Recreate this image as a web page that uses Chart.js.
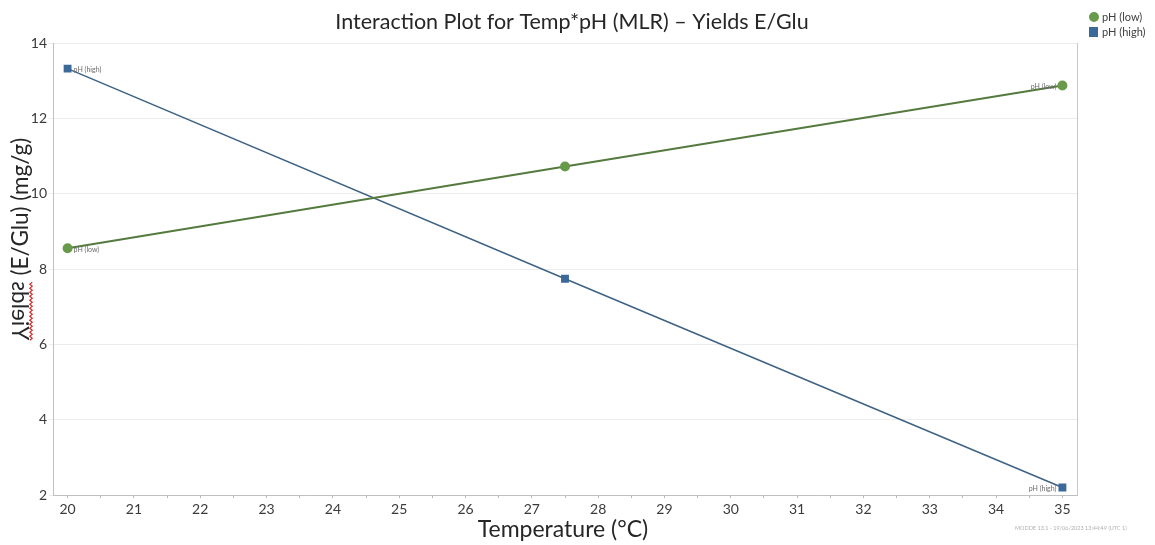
<!DOCTYPE html>
<html>
<head>
<meta charset="utf-8">
<script src="https://cdn.jsdelivr.net/npm/chart.js@4.4.1/dist/chart.umd.min.js"></script>
<style>
  html, body { margin: 0; padding: 0; background: #fff; }
  #wrap { width: 1155px; height: 545px; position: relative; }
</style>
</head>
<body>
<div id="wrap"><canvas id="plot"></canvas></div>
<script>
// ====== Interaction plot: temperature x pH ======
const temps = [20, 27.5, 35];
const yieldLowPH = [8.55, 10.72, 12.87];
const yieldHighPH = [13.32, 7.74, 2.2];
const seriesNames = ["pH (low)", "pH (high)"];
const xTicks = [20, 21, 22, 23, 24, 25, 26, 27, 28, 29, 30, 31, 32, 33, 34, 35];
const yTicks = [2, 4, 6, 8, 10, 12, 14];

const LOW_COLOR = "#679a4a";
const LOW_LINE = "#557a3e";
const HIGH_COLOR = "#3c6a98";
const HIGH_LINE = "#3e6284";
const FONT = "Lato, 'Open Sans', sans-serif";

const toPoints = (xs, ys) => xs.map((x, i) => ({ x: x, y: ys[i] }));

// major ticks plus a small unlabelled one halfway between each pair
function tempTickList() {
  const out = [];
  xTicks.forEach((v, i) => {
    out.push({ value: v });
    if (i < xTicks.length - 1) out.push({ value: (v + xTicks[i + 1]) / 2 });
  });
  return out;
}

// titles, legend, point tags and the frame are painted by hand
const decorations = {
  id: "decorations",
  afterDraw(chart) {
    const ctx = chart.ctx;
    const area = chart.chartArea;
    ctx.save();

    // right-hand frame line
    ctx.strokeStyle = "#c8c8c8";
    ctx.lineWidth = 1;
    ctx.beginPath();
    ctx.moveTo(area.right + 0.5, area.top);
    ctx.lineTo(area.right + 0.5, area.bottom);
    ctx.stroke();

    // title
    ctx.fillStyle = "#262626";
    ctx.font = "21.5px " + FONT;
    ctx.textAlign = "center";
    ctx.textBaseline = "middle";
    ctx.fillText("Interaction Plot for Temp*pH (MLR) \u2013 Yields E/Glu", 572, 22);

    // x axis title
    ctx.font = "23px " + FONT;
    ctx.fillText("Temperature (\u00B0C)", 563, 530);

    // y axis title, "Yields" comes out flipped with a spell-check squiggle
    ctx.translate(28, 239);
    ctx.rotate(-Math.PI / 2);
    ctx.font = "22.5px " + FONT;
    ctx.textAlign = "left";
    ctx.textBaseline = "alphabetic";
    const word = "Yields";
    const rest = " (E/Glu) (mg/g)";
    const wWord = ctx.measureText(word).width;
    const wRest = ctx.measureText(rest).width;
    const x0 = -(wWord + wRest) / 2;
    const cap = 16;
    ctx.save();
    ctx.translate(0, -cap);
    ctx.scale(1, -1);
    ctx.fillText(word, x0, 0);
    ctx.restore();
    ctx.fillText(rest, x0 + wWord, 0);
    ctx.strokeStyle = "#d03030";
    ctx.lineWidth = 1.2;
    ctx.beginPath();
    for (let x = x0; x <= x0 + wWord; x += 2) {
      const y = 3 + ((Math.round((x - x0) / 2) % 2) ? 1.2 : -1.2);
      if (x === x0) ctx.moveTo(x, y); else ctx.lineTo(x, y);
    }
    ctx.stroke();
    ctx.setTransform(1, 0, 0, 1, 0, 0);

    // point tags at both ends of each line
    ctx.font = "7px " + FONT;
    ctx.fillStyle = "#6a6a6a";
    ctx.textBaseline = "middle";
    chart.data.datasets.forEach((ds, i) => {
      const pts = chart.getDatasetMeta(i).data;
      const first = pts[0], last = pts[pts.length - 1];
      ctx.textAlign = "left";
      ctx.fillText(ds.label, first.x + 6, first.y + 1);
      ctx.textAlign = "right";
      ctx.fillText(ds.label, last.x - 6, last.y + 1);
    });

    // legend, top right
    ctx.font = "11px " + FONT;
    ctx.textAlign = "left";
    chart.data.datasets.forEach((ds, i) => {
      const y = 17 + i * 15;
      ctx.fillStyle = ds.pointBackgroundColor;
      if (ds.pointStyle === "circle") {
        ctx.beginPath();
        ctx.arc(1094, y, 5, 0, Math.PI * 2);
        ctx.fill();
      } else {
        ctx.fillRect(1089, y - 5, 9, 10);
      }
      ctx.fillStyle = "#404040";
      ctx.fillText(ds.label, 1102, y);
    });

    // stamp in the corner
    ctx.font = "5.5px " + FONT;
    ctx.fillStyle = "#b0b0b0";
    ctx.fillText("MODDE 13.1 - 19/06/2023 13:44:49 (UTC 1)", 1015, 528);

    ctx.restore();
  }
};

new Chart(document.getElementById("plot"), {
  type: "line",
  data: {
    datasets: [
      {
        label: seriesNames[0],
        data: toPoints(temps, yieldLowPH),
        borderColor: LOW_LINE,
        backgroundColor: LOW_COLOR,
        pointBackgroundColor: LOW_COLOR,
        pointBorderColor: LOW_COLOR,
        pointStyle: "circle",
        pointRadius: 4,
        borderWidth: 2,
        tension: 0
      },
      {
        label: seriesNames[1],
        data: toPoints(temps, yieldHighPH),
        borderColor: HIGH_LINE,
        backgroundColor: HIGH_COLOR,
        pointBackgroundColor: HIGH_COLOR,
        pointBorderColor: HIGH_COLOR,
        pointStyle: "rect",
        pointRadius: 4.5,
        borderWidth: 1.5,
        tension: 0
      }
    ]
  },
  options: {
    responsive: true,
    maintainAspectRatio: false,
    animation: false,
    layout: { padding: { left: 28, right: 78, top: 43, bottom: 25 } },
    plugins: { legend: { display: false }, tooltip: { enabled: false }, title: { display: false } },
    scales: {
      x: {
        type: "linear",
        min: 19.78,
        max: 35.22,
        afterBuildTicks: s => { s.ticks = tempTickList(); },
        afterFit: s => { s.height = 25; },
        ticks: {
          autoSkip: false,
          maxRotation: 0,
          color: "#3a3a3a",
          font: { family: FONT, size: 14 },
          padding: 3,
          callback: v => (Number.isInteger(v) ? v : "")
        },
        grid: { drawOnChartArea: false, color: "#b8b8b8", tickLength: 3 },
        border: { color: "#c0c0c0" }
      },
      y: {
        min: 2,
        max: 14,
        afterBuildTicks: s => { s.ticks = yTicks.map(v => ({ value: v })); },
        afterFit: s => { s.width = 25; },
        ticks: {
          color: "#3a3a3a",
          font: { family: FONT, size: 14 },
          padding: 2
        },
        grid: { color: "#ececec", tickLength: 4 },
        border: { color: "#c0c0c0" }
      }
    }
  },
  plugins: [decorations]
});
</script>
</body>
</html>
